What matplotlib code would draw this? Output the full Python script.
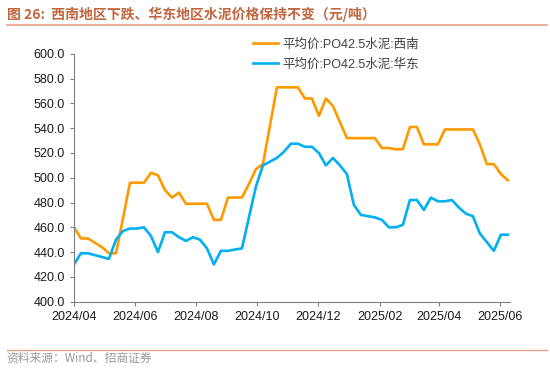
import numpy as np
import pandas as pd
import matplotlib
matplotlib.use('Agg')
import matplotlib.pyplot as plt
import matplotlib.dates as mdates
from matplotlib.ticker import FormatStrFormatter

plt.rcParams['font.family'] = ['Liberation Sans', 'Noto Sans CJK SC', 'DejaVu Sans']

# weekly observations
dates = pd.date_range('2024-04-01', periods=63, freq='7D')

southwest = [460, 451, 451, 447.5, 444, 439, 439, 467, 496, 496,
             496, 504, 502, 490, 484, 488, 479, 479, 479, 479,
             466, 466, 484, 484, 484, 495, 507, 511, 542, 573,
             573, 573, 573, 564, 564, 550, 564, 558, 545, 532,
             532, 532, 532, 532, 524, 524, 523, 523, 541, 541,
             527, 527, 527, 539, 539, 539, 539, 539, 527, 511,
             511, 503, 498]

east = [430, 439, 439, 437.5, 436, 434.5, 450, 457, 459, 459,
        460, 453, 440, 456, 456, 452, 449, 452, 450, 443,
        430, 441, 441, 442, 443, 468, 493, 510, 513, 516,
        521, 527.5, 527.5, 525, 525, 520, 510, 516, 510, 503,
        478, 470, 469, 468, 466, 460, 460, 462, 482, 482,
        474, 484, 481, 481, 482, 476, 471, 469, 455, 448,
        441, 454, 454]

labels = ['平均价:PO42.5水泥:西南', '平均价:PO42.5水泥:华东']
tick_dates = pd.to_datetime(['2024-04-01', '2024-06-01', '2024-08-01', '2024-10-01',
                             '2024-12-01', '2025-02-01', '2025-04-01', '2025-06-01'])

fig = plt.figure(figsize=(5.5, 3.77), dpi=100)
ax = fig.add_axes([0.1345, 0.2, 0.7925, 0.657])

ax.plot(dates, southwest, color='#FF9900', lw=1.9, label=labels[0])
ax.plot(dates, east, color='#00B0F0', lw=1.9, label=labels[1])

ax.set_ylim(400, 600)
ax.set_yticks(np.arange(400, 601, 20))
ax.yaxis.set_major_formatter(FormatStrFormatter('%.1f'))
ax.set_xlim(dates[0], dates[-1] + pd.Timedelta(days=2))
ax.set_xticks(tick_dates)
ax.xaxis.set_major_formatter(mdates.DateFormatter('%Y/%m'))

for s in ['top', 'right']:
    ax.spines[s].set_visible(False)
for s in ['left', 'bottom']:
    ax.spines[s].set_color('#808080')
    ax.spines[s].set_linewidth(0.8)
ax.tick_params(colors='#808080', labelcolor='#1a1a1a', labelsize=9, length=3, width=0.8)

leg = ax.legend(loc='upper left', bbox_to_anchor=(0.4, 1.082), frameon=False,
                fontsize=9, handlelength=2.0, handletextpad=0.3, labelspacing=0.6,
                borderaxespad=0)
for t in leg.get_texts():
    t.set_color('#404040')

fig.text(0.012, 0.962, '图 26:  西南地区下跌、华东地区水泥价格保持不变（元/吨）',
         fontsize=10, fontweight='bold', color='#C0653F', va='center',
         family=['Noto Sans CJK SC', 'DejaVu Sans'])
fig.add_artist(plt.Line2D([0.012, 0.995], [0.935, 0.935], color='#E8A088', lw=1.2))
fig.add_artist(plt.Line2D([0.012, 0.995], [0.072, 0.072], color='#E8A088', lw=1.0))
fig.text(0.012, 0.05, '资料来源：Wind、招商证券', fontsize=8.5, color='#999999', va='center',
         family=['Noto Sans CJK SC', 'DejaVu Sans'])

fig.savefig('out.png', dpi=100)
